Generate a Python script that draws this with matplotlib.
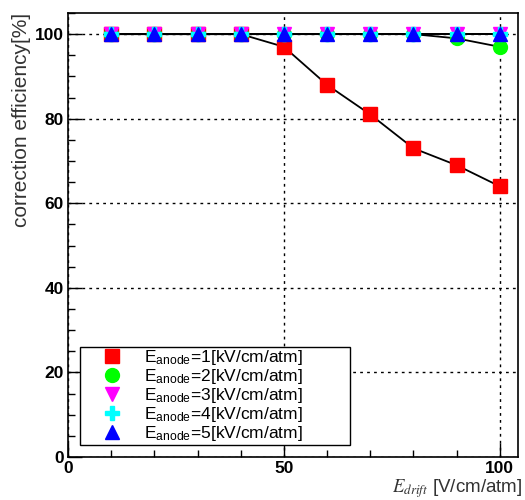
import matplotlib
matplotlib.use("Agg")
import matplotlib.pyplot as plt
from matplotlib.ticker import MultipleLocator

plt.rcParams['font.family'] = ['Liberation Sans', 'DejaVu Sans']
plt.rcParams['mathtext.fontset'] = 'stix'

x_drift = [10, 20, 30, 40, 50, 60, 70, 80, 90, 100]
eff_anode1 = [100, 100, 100, 100, 97, 88, 81, 73, 69, 64]
eff_anode2 = [100, 100, 100, 100, 100, 100, 100, 100, 99, 97]
eff_anode3 = [100, 100, 100, 100, 100, 100, 100, 100, 100, 100]
eff_anode4 = [100, 100, 100, 100, 100, 100, 100, 100, 100, 100]
eff_anode5 = [100, 100, 100, 100, 100, 100, 100, 100, 100, 100]
labels = [r'E$_{\mathregular{anode}}$=%d[kV/cm/atm]' % i for i in range(1, 6)]

fig = plt.figure(figsize=(5.25, 5.0), dpi=100)
ax = fig.add_axes([68/525, 1-457/500, 450/525, 444/500])

series = [eff_anode1, eff_anode2, eff_anode3, eff_anode4, eff_anode5]
markers = ['s', 'o', 'v', 'P', '^']
colors = ['#ff0000', '#00ff00', '#ff00ff', '#00ffff', '#0000ff']
sizes = [10, 10, 10, 10, 10]

for ys in series:
    ax.plot(x_drift, ys, color='black', lw=1.3, zorder=2)
handles = []
for ys, m, c, s, lab in zip(series, markers, colors, sizes, labels):
    h, = ax.plot(x_drift, ys, linestyle='none', marker=m, color=c, ms=s,
                 mec=c, zorder=3, label=lab)
    handles.append(h)

ax.set_xlim(0, 104.2)
ax.set_ylim(0, 105)
ax.xaxis.set_major_locator(MultipleLocator(50))
ax.xaxis.set_minor_locator(MultipleLocator(10))
ax.yaxis.set_major_locator(MultipleLocator(20))
ax.yaxis.set_minor_locator(MultipleLocator(5))
ax.tick_params(which='both', direction='in', top=False, right=False,
               labelsize=12.5, width=1)
ax.tick_params(which='major', length=10, pad=3)
ax.tick_params(which='minor', length=5)
for lab in ax.get_xticklabels() + ax.get_yticklabels():
    lab.set_fontweight('bold')
ax.grid(True, which='major', color='black', linestyle=(0, (2, 3)), lw=1)
for sp in ax.spines.values():
    sp.set_linewidth(1.2)

ax.set_ylabel('correction efficiency[%]', fontsize=15, color='#333333',
              loc='top', labelpad=3)
fig.text(522/525, 1-489/500, r'$E_{drift}$ [V/cm/atm]', fontsize=13.5,
         color='#333333', ha='right', va='center')

leg = ax.legend(handles=handles, loc='lower left',
                bbox_to_anchor=(0.027, 0.027, 0.6, 0.225), mode='expand',
                fontsize=12.5, frameon=True, fancybox=False, framealpha=1,
                edgecolor='black', borderpad=0.1, labelspacing=0.0,
                handletextpad=0.1, borderaxespad=0, handlelength=3.5)
leg.get_frame().set_linewidth(1)

fig.savefig('out.png', dpi=100)
